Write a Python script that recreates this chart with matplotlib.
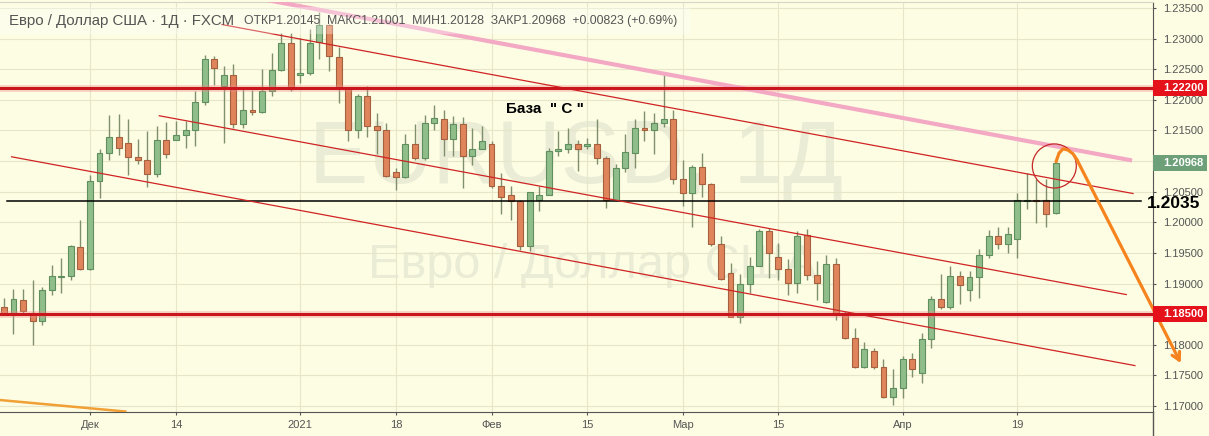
import matplotlib
matplotlib.use("Agg")
import matplotlib.pyplot as plt
import numpy as np
from matplotlib.patches import Ellipse, Rectangle
from matplotlib.transforms import blended_transform_factory

# EUR/USD daily candles, bar 0 = 18 Nov 2020 ... bar 110 = 23 Apr 2021
opens = [1.1862, 1.1852, 1.1873, 1.1852, 1.1839, 1.1890, 1.1911, 1.1912, 1.1960, 1.1924,
         1.2067, 1.2113, 1.2139, 1.2130, 1.2107, 1.2102, 1.2079, 1.2135, 1.2135, 1.2142,
         1.2151, 1.2197, 1.2267, 1.2222, 1.2241, 1.2161, 1.2184, 1.2180, 1.2215, 1.2248,
         1.2293, 1.2240, 1.2244, 1.2294, 1.2323, 1.2270, 1.2219, 1.2150, 1.2206, 1.2157,
         1.2151, 1.2082, 1.2074, 1.2128, 1.2105, 1.2162, 1.2168, 1.2136, 1.2160, 1.2108,
         1.2120, 1.2128, 1.2059, 1.2044, 1.2035, 1.1961, 1.2037, 1.2045, 1.2117, 1.2119,
         1.2128, 1.2124, 1.2128, 1.2105, 1.2037, 1.2089, 1.2113, 1.2154, 1.2150, 1.2162,
         1.2169, 1.2071, 1.2048, 1.2090, 1.2063, 1.1964, 1.1917, 1.1846, 1.1899, 1.1929,
         1.1985, 1.1943, 1.1924, 1.1901, 1.1979, 1.1914, 1.1870, 1.1932, 1.1852, 1.1811,
         1.1764, 1.1790, 1.1764, 1.1715, 1.1730, 1.1776, 1.1754, 1.1810, 1.1874, 1.1861,
         1.1913, 1.1889, 1.1911, 1.1946, 1.1977, 1.1965, 1.1972, 1.2035, 1.2036, 1.2036,
         1.20145]
highs = [1.1877, 1.1891, 1.1891, 1.1906, 1.1895, 1.1930, 1.1941, 1.1963, 1.2004, 1.2078,
         1.2119, 1.2175, 1.2177, 1.2168, 1.2136, 1.2149, 1.2158, 1.2164, 1.2165, 1.2165,
         1.2214, 1.2274, 1.2272, 1.2255, 1.2258, 1.2219, 1.2216, 1.2250, 1.2277, 1.2309,
         1.2309, 1.2301, 1.2315, 1.2344, 1.2324, 1.2287, 1.2221, 1.2210, 1.2222, 1.2179,
         1.2162, 1.2089, 1.2145, 1.2160, 1.2176, 1.2191, 1.2184, 1.2174, 1.2172, 1.2154,
         1.2157, 1.2132, 1.2081, 1.2059, 1.2037, 1.2050, 1.2060, 1.2121, 1.2149, 1.2154,
         1.2135, 1.2138, 1.2168, 1.2108, 1.2096, 1.2145, 1.2169, 1.2181, 1.2179, 1.2241,
         1.2184, 1.2102, 1.2094, 1.2113, 1.2065, 1.1977, 1.1933, 1.1915, 1.1944, 1.1989,
         1.1991, 1.1967, 1.1940, 1.1986, 1.1989, 1.1937, 1.1947, 1.1942, 1.1855, 1.1828,
         1.1805, 1.1795, 1.1777, 1.1761, 1.1781, 1.1787, 1.1820, 1.1879, 1.1916, 1.1928,
         1.1920, 1.1920, 1.1957, 1.1988, 1.1992, 1.1993, 1.2048, 1.2081, 1.2071, 1.2070,
         1.21001]
lows = [1.1849, 1.1817, 1.1849, 1.1800, 1.1833, 1.1881, 1.1884, 1.1905, 1.1922, 1.1922,
        1.2040, 1.2102, 1.2110, 1.2078, 1.2096, 1.2058, 1.2074, 1.2105, 1.2134, 1.2121,
        1.2124, 1.2191, 1.2225, 1.2130, 1.2154, 1.2154, 1.2176, 1.2179, 1.2206, 1.2247,
        1.2214, 1.2228, 1.2241, 1.2266, 1.2247, 1.2195, 1.2132, 1.2138, 1.2140, 1.2111,
        1.2074, 1.2053, 1.2073, 1.2102, 1.2102, 1.2150, 1.2108, 1.2108, 1.2056, 1.2094,
        1.2119, 1.2056, 1.2013, 1.2004, 1.1954, 1.1953, 1.2018, 1.2044, 1.2108, 1.2113,
        1.2083, 1.2119, 1.2095, 1.2023, 1.2035, 1.2082, 1.2089, 1.2133, 1.2111, 1.2155,
        1.2062, 1.2026, 1.1993, 1.2042, 1.1962, 1.1906, 1.1845, 1.1836, 1.1885, 1.1928,
        1.1909, 1.1906, 1.1882, 1.1885, 1.1905, 1.1873, 1.1869, 1.1841, 1.1810, 1.1762,
        1.1762, 1.1760, 1.1713, 1.1702, 1.1713, 1.1748, 1.1738, 1.1795, 1.1859, 1.1859,
        1.1867, 1.1871, 1.1877, 1.1942, 1.1957, 1.1950, 1.1942, 1.2022, 1.1999, 1.1993,
        1.20128]
closes = [1.1851, 1.1874, 1.1855, 1.1839, 1.1889, 1.1912, 1.1912, 1.1962, 1.1924, 1.2067,
          1.2113, 1.2139, 1.2121, 1.2107, 1.2101, 1.2079, 1.2135, 1.2111, 1.2143, 1.2151,
          1.2197, 1.2267, 1.2252, 1.2241, 1.2161, 1.2184, 1.2180, 1.2215, 1.2248, 1.2293,
          1.2217, 1.2244, 1.2293, 1.2323, 1.2271, 1.2221, 1.2150, 1.2206, 1.2158, 1.2151,
          1.2075, 1.2074, 1.2128, 1.2105, 1.2162, 1.2170, 1.2136, 1.2160, 1.2108, 1.2120,
          1.2133, 1.2059, 1.2042, 1.2035, 1.1961, 1.2049, 1.2045, 1.2117, 1.2119, 1.2128,
          1.2119, 1.2128, 1.2105, 1.2037, 1.2089, 1.2115, 1.2154, 1.2150, 1.2163, 1.2169,
          1.2070, 1.2048, 1.2090, 1.2063, 1.1964, 1.1908, 1.1846, 1.1899, 1.1929, 1.1985,
          1.1950, 1.1924, 1.1901, 1.1978, 1.1914, 1.1901, 1.1932, 1.1850, 1.1811, 1.1764,
          1.1793, 1.1764, 1.1715, 1.1730, 1.1776, 1.1761, 1.1810, 1.1874, 1.1861, 1.1913,
          1.1898, 1.1911, 1.1947, 1.1977, 1.1965, 1.1981, 1.2036, 1.2036, 1.2035, 1.2014,
          1.20968]

tick_pos = [9, 18, 31, 41, 51, 61, 71, 81, 94, 106]
tick_labels = ["Дек", "14", "2021", "18", "Фев", "15", "Мар", "15", "Апр", "19"]
price_ticks = [1.170, 1.175, 1.180, 1.185, 1.190, 1.195, 1.200, 1.205,
               1.210, 1.215, 1.220, 1.225, 1.230, 1.235]
hidden_ticks = [1.185, 1.210]  # covered by the price boxes

red_levels = [1.2220, 1.1850]
black_level = 1.2035

# drawings: (bar index, price) end points
pink_x, pink_y = [27.5, 118.0], [1.2363, 1.2101]
chan_up_x, chan_up_y = [22.8, 118.1], [1.2323, 1.2047]
chan_mid_x, chan_mid_y = [16.25, 117.4], [1.2174, 1.1882]
chan_low_x, chan_low_y = [0.8, 118.3], [1.2107, 1.1766]
old_orange_x, old_orange_y = [-0.6, 12.7], [1.1710, 1.1691]
arrow_x = [110.05, 110.36, 110.78, 111.3, 111.82, 112.24, 123.1]
arrow_y = [1.2099, 1.2113, 1.2120, 1.2118, 1.2112, 1.2102, 1.1770]
circle_center = (109.87, 1.2092)

bg = "#fdfde3"
green_fill, green_edge = "#8fbe8b", "#5f8f5f"
red_fill, red_edge = "#e0845b", "#a4603f"
wick_col = "#808f6c"
txt_col = "#555555"

W, H = 1209, 436
fig = plt.figure(figsize=(W / 100, H / 100), dpi=100, facecolor=bg)
ax = fig.add_axes([0, 1 - 412 / H, 1153 / W, 410 / H], facecolor=bg)
ax.set_xlim(-0.41, 120.19)
ax.set_ylim(1.16902, 1.23598)

x = np.arange(len(opens))
o, h, l, c = map(np.array, (opens, highs, lows, closes))
up = c >= o
body_bottom = np.minimum(o, c)
body_h = np.maximum(np.abs(c - o), 0.00007)

# watermark
ax.text(59.8, 1.2102, "EURUSD, 1Д", fontsize=64, family="Liberation Sans",
        color="#eaecd5", ha="center", va="center", zorder=0)
ax.text(61.5, 1.1929, "Евро / Доллар США", fontsize=35, family="Liberation Sans",
        color="#eaecd5", ha="center", va="center", zorder=0)

# grid
for tp in tick_pos:
    ax.axvline(tp, color="#e8e6c8", lw=0.8, zorder=0.5)
for pt in price_ticks:
    ax.axhline(pt, color="#e8e6c8", lw=0.8, zorder=0.5)

# candles
ax.vlines(x, l, h, color=wick_col, lw=1, zorder=2)
ax.bar(x[up], body_h[up], bottom=body_bottom[up], width=0.62,
       color=green_fill, edgecolor=green_edge, linewidth=0.8, zorder=3)
ax.bar(x[~up], body_h[~up], bottom=body_bottom[~up], width=0.62,
       color=red_fill, edgecolor=red_edge, linewidth=0.8, zorder=3)

# levels
for lv in red_levels:
    ax.axhline(lv, color="#f08a8a", lw=5, alpha=0.35, zorder=4)
    ax.axhline(lv, color="#c8161c", lw=2.2, zorder=4.1)
ax.plot([0.3, 118.9], [black_level, black_level], color="black", lw=1.1, zorder=4)

# trend channel
ax.plot(pink_x, pink_y, color="#f3a8c4", lw=3, solid_capstyle="butt", zorder=4)
for cx, cy in [(chan_up_x, chan_up_y), (chan_mid_x, chan_mid_y), (chan_low_x, chan_low_y)]:
    ax.plot(cx, cy, color="#cf2424", lw=0.9, zorder=4)
ax.plot(old_orange_x, old_orange_y, color="#f0a035", lw=1.8, zorder=4)

# circle + forecast arrow
ax.add_patch(Ellipse(circle_center, 4.6, 0.0072, fill=False, ec="#c62828", lw=0.9, zorder=5))
ax.plot(arrow_x[:-1], arrow_y[:-1], color="#f5841f", lw=2.3, zorder=5,
        solid_capstyle="round", clip_on=False)
ax.annotate("", xy=(arrow_x[-1], arrow_y[-1]), xytext=(arrow_x[-2], arrow_y[-2]),
            arrowprops=dict(arrowstyle="->,head_length=0.55,head_width=0.3",
                            color="#f5841f", lw=2.3, shrinkA=0, shrinkB=0),
            annotation_clip=False, zorder=5)

ax.text(56.6, 1.2185, "База  \" С \"", fontsize=11, fontweight="bold",
        family="Liberation Sans", color="black", ha="center", va="center", zorder=6)
ax.text(119.55, 1.20315, "1.2035", fontsize=12.5, fontweight="bold",
        family="Liberation Sans", color="black", ha="left", va="center",
        zorder=7, clip_on=False)

# axes styling
ax.spines["left"].set_visible(False)
ax.spines["top"].set_color("#d5d5c8")
ax.spines["bottom"].set_color("#555555")
ax.spines["right"].set_color("#555555")
ax.yaxis.tick_right()
ax.set_yticks(price_ticks)
ax.set_yticklabels(["" if p in hidden_ticks else f"{p:.5f}" for p in price_ticks])
ax.set_xticks(tick_pos)
ax.set_xticklabels(tick_labels)
ax.tick_params(axis="y", colors=txt_col, labelsize=8, length=2.5, pad=4.5, width=0.8)
ax.tick_params(axis="x", colors=txt_col, labelsize=8, length=2.5, pad=3, width=0.8)
for lab in ax.get_xticklabels() + ax.get_yticklabels():
    lab.set_family("Liberation Sans")
fig.add_artist(plt.Line2D([1153 / W, 1153 / W], [0, 24 / H], color="#555555", lw=1))

# price boxes on the scale
bt = blended_transform_factory(ax.transAxes, ax.transData)
boxes = [(1.2220, "1.22200", "#e5121b"), (1.20968, "1.20968", "#6da078"),
         (1.1850, "1.18500", "#e5121b")]
for py, label, col in boxes:
    ax.add_patch(Rectangle((1.0, py - 0.0013), 54 / 1153, 0.0026, transform=bt,
                           fc=col, ec="none", clip_on=False, zorder=8))
    ax.text(1163 / 1153, py, label, transform=bt, color="white", fontsize=8,
            fontweight="bold", family="Liberation Sans", ha="left", va="center",
            clip_on=False, zorder=9)

# header
fig.add_artist(Rectangle((0, 1 - 34 / H), 690 / W, 27 / H, transform=fig.transFigure,
                         fc="white", ec="none", alpha=0.3, zorder=9))
fig.text(9 / W, 1 - 21 / H, "Евро / Доллар США · 1Д · FXCM", fontsize=10.8,
         family="Liberation Sans", color=txt_col, va="center", zorder=10)
fig.text(244 / W, 1 - 21 / H,
         "ОТКР1.20145  МАКС1.21001  МИН1.20128  ЗАКР1.20968  +0.00823 (+0.69%)",
         fontsize=8.8, family="Liberation Sans", color=txt_col, va="center", zorder=10)

plt.savefig("out.png", dpi=100, facecolor=bg)
